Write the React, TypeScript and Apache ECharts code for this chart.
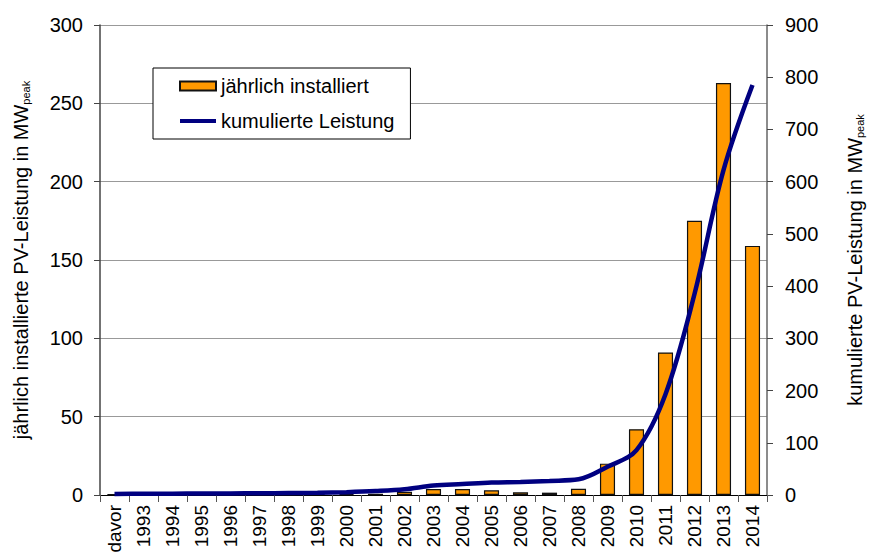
import React, { useEffect, useRef } from "react";
import * as echarts from "echarts";

const categories = ["davor", "1993", "1994", "1995", "1996", "1997", "1998", "1999", "2000", "2001", "2002", "2003", "2004", "2005", "2006", "2007", "2008", "2009", "2010", "2011", "2012", "2013", "2014"];
const annualInstalled = [0.5, 0.2, 0.2, 0.3, 0.3, 0.3, 0.4, 0.5, 0.6, 0.8, 2.1, 3.8, 3.8, 3.0, 1.7, 1.5, 4.0, 20, 42, 91, 175, 263, 159];
const cumulative = [2, 2.3, 2.5, 2.8, 3, 3.3, 3.7, 4.2, 5.5, 7.6, 11, 18, 21, 24, 25, 27, 30, 54, 86, 193, 385, 622, 785];
const leftTicks = { min: 0, max: 300, interval: 50 };
const rightTicks = { min: 0, max: 900, interval: 100 };

const FONT = "Liberation Sans, Arial, sans-serif";

export default function App() {
  const ref = useRef<HTMLDivElement>(null);
  useEffect(() => {
    if (!ref.current) return;
    const chart = echarts.init(ref.current, null, { renderer: "svg" });
    const nameRich = {
      sub: { fontSize: 11, fontFamily: FONT, color: "#000", verticalAlign: "bottom", padding: [8, 0, 0, 0] },
    };
    chart.setOption({
      animation: false,
      backgroundColor: "#fff",
      textStyle: { fontFamily: FONT },
      grid: { left: 100, right: 101, top: 25, bottom: 62, containLabel: false },
      legend: {
        orient: "vertical",
        left: 153,
        top: 68,
        padding: [8, 16, 8, 26],
        itemGap: 15,
        itemWidth: 36,
        itemHeight: 9,
        borderColor: "#000",
        borderWidth: 1,
        backgroundColor: "#fff",
        textStyle: { fontSize: 20, color: "#000", fontFamily: FONT },
        data: [
          { name: "jährlich installiert", icon: "rect" },
          { name: "kumulierte Leistung", icon: "path://M0 0H36V3.8H0Z" },
        ],
      },
      xAxis: {
        type: "category",
        data: categories,
        boundaryGap: true,
        axisLine: { lineStyle: { color: "#000", width: 1 } },
        axisTick: { show: true, length: 7, lineStyle: { color: "#555" } },
        axisLabel: { rotate: 90, fontSize: 19, color: "#000", margin: 10, interval: 0, fontFamily: FONT },
      },
      yAxis: [
        {
          type: "value",
          ...leftTicks,
          position: "left",
          name: "jährlich installierte PV-Leistung in MW{sub|peak}",
          nameLocation: "middle",
          nameRotate: 90,
          nameGap: 69,
          nameTextStyle: { fontSize: 20, color: "#000", fontFamily: FONT, rich: nameRich },
          axisLine: { show: true, lineStyle: { color: "#444", width: 1.5 } },
          axisTick: { show: true, length: 6, lineStyle: { color: "#444" } },
          axisLabel: { fontSize: 20, color: "#000", margin: 17, fontFamily: FONT },
          splitLine: { show: true, lineStyle: { color: "#999", width: 1 } },
        },
        {
          type: "value",
          ...rightTicks,
          position: "right",
          name: "kumulierte PV-Leistung in MW{sub|peak}",
          nameLocation: "middle",
          nameRotate: 90,
          nameGap: 78,
          nameTextStyle: { fontSize: 20, color: "#000", fontFamily: FONT, rich: nameRich },
          axisLine: { show: true, lineStyle: { color: "#666", width: 1.5 } },
          axisTick: { show: true, length: 6, lineStyle: { color: "#444" } },
          axisLabel: { fontSize: 20, color: "#000", margin: 18, fontFamily: FONT },
          splitLine: { show: false },
        },
      ],
      series: [
        {
          name: "jährlich installiert",
          type: "bar",
          yAxisIndex: 0,
          data: annualInstalled,
          barWidth: "52%",
          itemStyle: { color: "#FF9900", borderColor: "#111", borderWidth: 1.2 },
        },
        {
          name: "kumulierte Leistung",
          type: "line",
          yAxisIndex: 1,
          data: cumulative,
          smooth: 0.35,
          symbol: "none",
          lineStyle: { color: "#000080", width: 4.5 },
          itemStyle: { color: "#000080" },
        },
      ],
    });
    return () => chart.dispose();
  }, []);
  return (
    <div
      ref={ref}
      style={{ position: "fixed", left: 0, top: 0, width: 873, height: 557, background: "#fff" }}
    />
  );
}
